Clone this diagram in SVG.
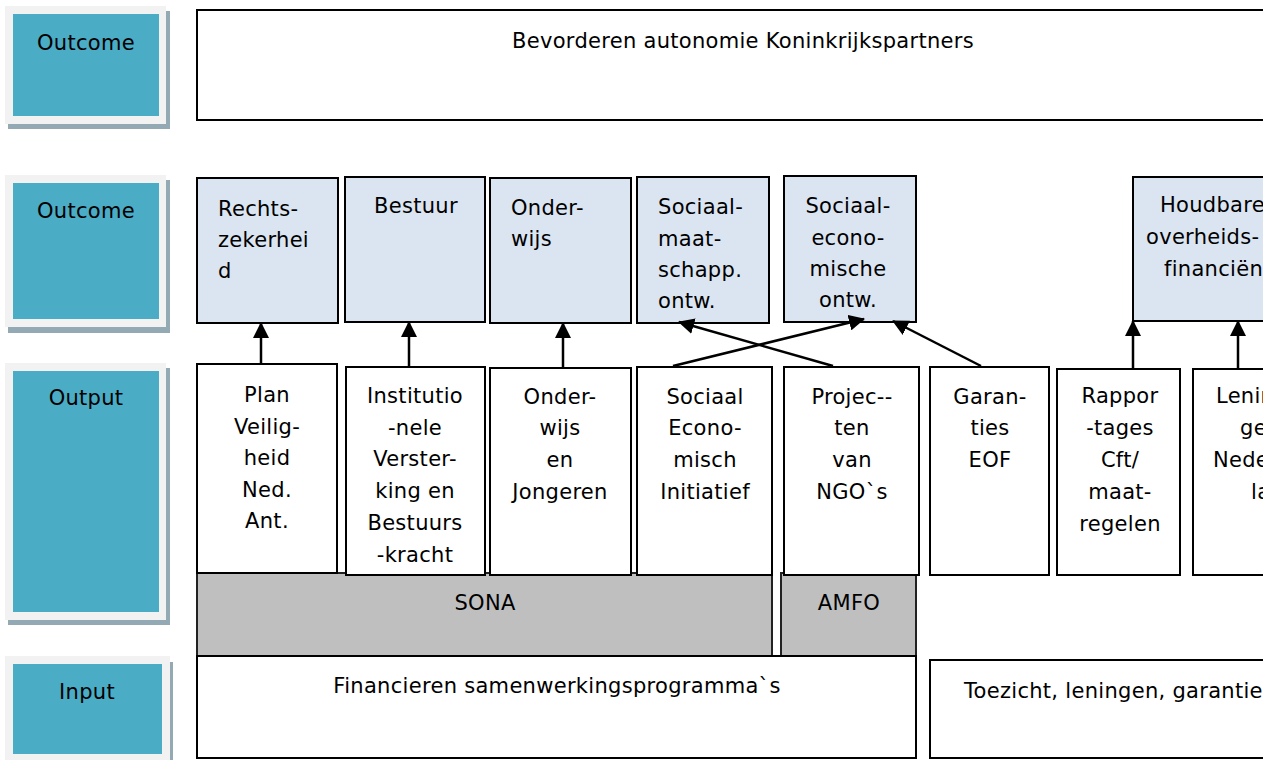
<svg xmlns="http://www.w3.org/2000/svg" width="1263" height="760" viewBox="0 0 1263 760">
<defs>
<style>
text{font-family:"DejaVu Sans","Verdana",sans-serif;font-size:21px;letter-spacing:0.3px;fill:#000}
.c{text-anchor:middle}
.sh{fill:#93aab5}
.fr{fill:#f2f2f2}
.tl{fill:#4bacc6}
.oc{fill:#dbe5f1;stroke:#000;stroke-width:2}
.op{fill:#fff;stroke:#000;stroke-width:2}
.gr{fill:#bfbfbf;stroke:#222;stroke-width:2}
.bx{fill:#fff;stroke:#000;stroke-width:2}
.ar{stroke:#000;stroke-width:2.5;fill:none;marker-end:url(#ah)}
</style>
<marker id="ah" markerUnits="userSpaceOnUse" markerWidth="16" markerHeight="16" viewBox="0 0 16 16" refX="15" refY="8" orient="auto">
<path d="M0,0 L16,8 L0,16 Z" fill="#000"/>
</marker>
</defs>
<rect width="1263" height="760" fill="#fff"/>

<g id="lbl-outcome1">
<rect class="sh" x="8" y="11" width="162" height="118"/>
<rect class="fr" x="5" y="6" width="161" height="118"/>
<rect class="tl" x="13" y="14" width="146" height="102"/>
<text class="c" x="86" y="50">Outcome</text>
</g>
<g id="lbl-outcome2">
<rect class="sh" x="8" y="180" width="162" height="153"/>
<rect class="fr" x="5" y="175" width="161" height="152"/>
<rect class="tl" x="13" y="183" width="146" height="136"/>
<text class="c" x="86" y="218">Outcome</text>
</g>
<g id="lbl-output">
<rect class="sh" x="8" y="368" width="162" height="257"/>
<rect class="fr" x="5" y="363" width="161" height="257"/>
<rect class="tl" x="13" y="371" width="146" height="241"/>
<text class="c" x="86" y="405">Output</text>
</g>
<g id="lbl-input">
<rect class="sh" x="8" y="662" width="165" height="110"/>
<rect class="fr" x="5" y="656" width="165" height="110"/>
<rect class="tl" x="13" y="664" width="149" height="90"/>
<text class="c" x="87" y="699">Input</text>
</g>

<g id="top-outcome">
<rect class="bx" x="197" y="10" width="1100" height="110"/>
<text class="c" x="743" y="48">Bevorderen autonomie Koninkrijkspartners</text>
</g>

<g id="oc-rechts">
<rect class="oc" x="197" y="178" width="141" height="145"/>
<text x="218" y="216">Rechts-</text><text x="218" y="247">zekerhei</text><text x="218" y="278">d</text>
</g>
<g id="oc-bestuur">
<rect class="oc" x="345" y="177" width="140" height="145"/>
<text class="c" x="416" y="213">Bestuur</text>
</g>
<g id="oc-onderwijs">
<rect class="oc" x="490" y="178" width="141" height="145"/>
<text x="511" y="215">Onder-</text><text x="511" y="246">wijs</text>
</g>
<g id="oc-sociaalmaat">
<rect class="oc" x="637" y="177" width="132" height="146"/>
<text x="658" y="214">Sociaal-</text><text x="658" y="246">maat-</text><text x="658" y="277">schapp.</text><text x="658" y="308">ontw.</text>
</g>
<g id="oc-sociaalecon">
<rect class="oc" x="784" y="176" width="132" height="146"/>
<text class="c" x="848" y="213">Sociaal-</text><text class="c" x="848" y="245">econo-</text><text class="c" x="848" y="276">mische</text><text class="c" x="848" y="307">ontw.</text>
</g>
<g id="oc-houdbare">
<rect class="oc" x="1133" y="177" width="200" height="144"/>
<text x="1160" y="212">Houdbare</text><text x="1146" y="244">overheids-</text><text x="1164" y="276">financiën</text>
</g>

<g id="in-sona">
<rect class="gr" x="197" y="573" width="575" height="83"/>
<text class="c" x="485" y="610">SONA</text>
</g>
<g id="in-amfo">
<rect class="gr" x="781" y="573" width="135" height="83"/>
<text class="c" x="849" y="610">AMFO</text>
</g>

<g id="op-plan">
<rect class="op" x="197" y="364" width="140" height="209"/>
<text class="c" x="267" y="402">Plan</text><text class="c" x="267" y="434">Veilig-</text><text class="c" x="267" y="465">heid</text><text class="c" x="267" y="497">Ned.</text><text class="c" x="267" y="528">Ant.</text>
</g>
<g id="op-instit">
<rect class="op" x="346" y="367" width="139" height="208"/>
<text class="c" x="415" y="403">Institutio</text><text class="c" x="415" y="435">-nele</text><text class="c" x="415" y="466">Verster-</text><text class="c" x="415" y="498">king en</text><text class="c" x="415" y="530">Bestuurs</text><text class="c" x="415" y="562">-kracht</text>
</g>
<g id="op-onderwijs">
<rect class="op" x="490" y="368" width="141" height="207"/>
<text class="c" x="560" y="404">Onder-</text><text class="c" x="560" y="435">wijs</text><text class="c" x="560" y="467">en</text><text class="c" x="560" y="499">Jongeren</text>
</g>
<g id="op-sei">
<rect class="op" x="637" y="367" width="135" height="208"/>
<text class="c" x="705" y="404">Sociaal</text><text class="c" x="705" y="435">Econo-</text><text class="c" x="705" y="467">misch</text><text class="c" x="705" y="499">Initiatief</text>
</g>
<g id="op-ngo">
<rect class="op" x="784" y="367" width="135" height="208"/>
<text class="c" x="852" y="404">Projec--</text><text class="c" x="852" y="435">ten</text><text class="c" x="852" y="467">van</text><text class="c" x="852" y="499">NGO`s</text>
</g>
<g id="op-garanties">
<rect class="op" x="930" y="367" width="119" height="208"/>
<text class="c" x="990" y="404">Garan-</text><text class="c" x="990" y="435">ties</text><text class="c" x="990" y="467">EOF</text>
</g>
<g id="op-rappor">
<rect class="op" x="1057" y="369" width="123" height="206"/>
<text class="c" x="1120" y="403">Rappor</text><text class="c" x="1120" y="435">-tages</text><text class="c" x="1120" y="467">Cft/</text><text class="c" x="1120" y="499">maat-</text><text class="c" x="1120" y="531">regelen</text>
</g>
<g id="op-lening">
<rect class="op" x="1193" y="369" width="150" height="206"/>
<text x="1216" y="403">Lenin-</text><text x="1240" y="435">gen</text><text x="1213" y="467">Neder-</text><text x="1251" y="499">land</text>
</g>

<g id="in-financieren">
<rect class="bx" x="197" y="656" width="719" height="102"/>
<text class="c" x="557" y="693">Financieren samenwerkingsprogramma`s</text>
</g>
<g id="in-toezicht">
<rect class="bx" x="930" y="660" width="400" height="98"/>
<text x="964" y="698">Toezicht, leningen, garanties</text>
</g>

<g id="connectors">
<line class="ar" x1="261" y1="365" x2="261" y2="323"/>
<line class="ar" x1="409" y1="368" x2="409" y2="322"/>
<line class="ar" x1="563" y1="368" x2="563" y2="323"/>
<line class="ar" x1="673" y1="366" x2="864" y2="319"/>
<line class="ar" x1="833" y1="366" x2="679" y2="322"/>
<line class="ar" x1="981" y1="366" x2="893" y2="321"/>
<line class="ar" x1="1133" y1="368" x2="1133" y2="321"/>
<line class="ar" x1="1238" y1="368" x2="1238" y2="321"/>
</g>
</svg>
